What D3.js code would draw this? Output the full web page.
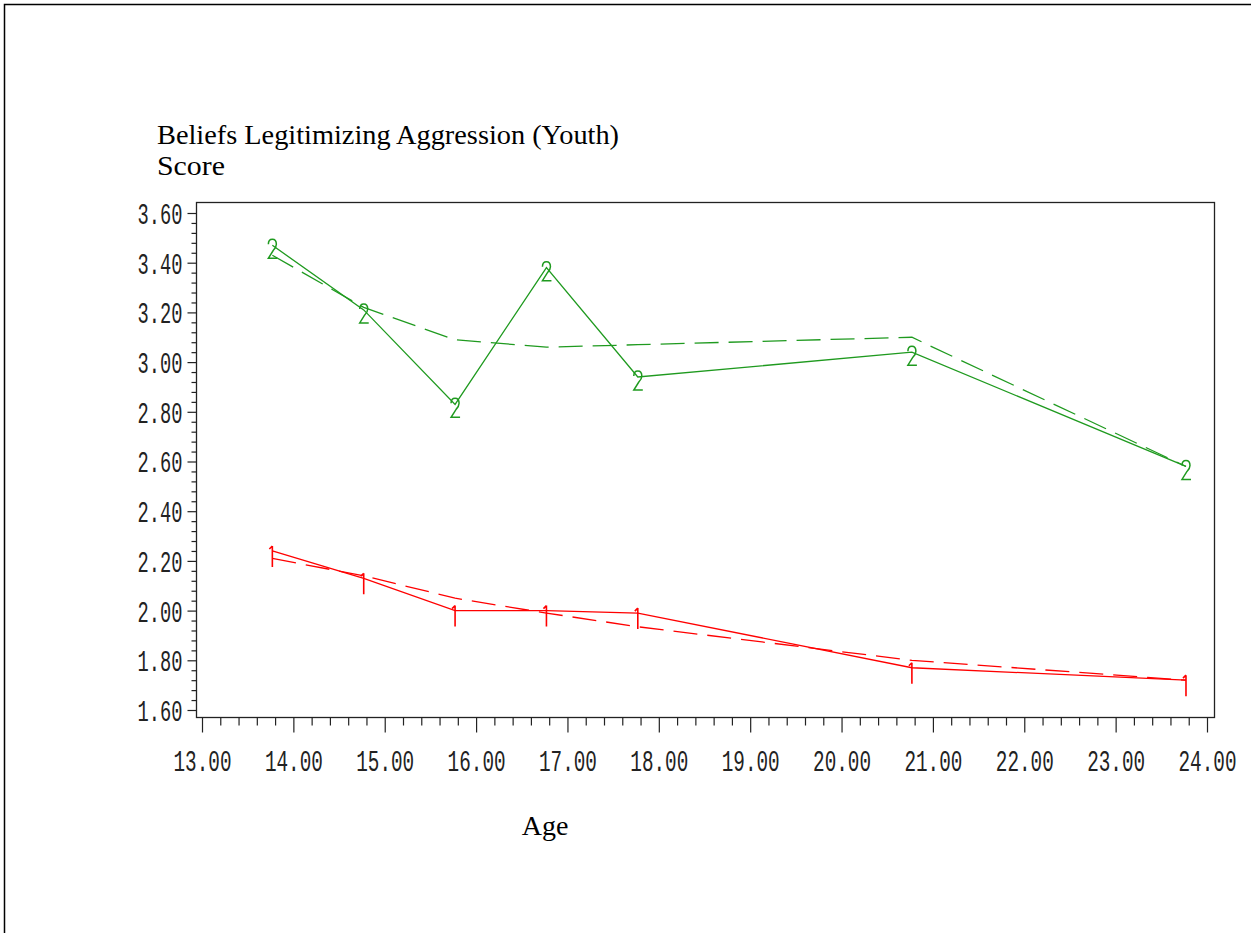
<!DOCTYPE html>
<html>
<head>
<meta charset="utf-8">
<script src="https://cdn.jsdelivr.net/npm/d3@7"></script>
<style>
  body { margin: 0; background: #fff; }
  svg { display: block; }
</style>
</head>
<body>
<svg id="chart" width="1251" height="933"></svg>
<script>
// Ages at which the scores were measured
const ages = [13.77, 14.77, 15.77, 16.77, 17.77, 20.77, 23.77];

// Group 2: observed means (solid) and model-predicted means (dashed)
const group2Observed  = [3.47, 3.21, 2.83, 3.38, 2.94, 3.04, 2.58];
const group2Predicted = [3.43, 3.22, 3.09, 3.06, 3.07, 3.10, 2.58];

// Group 1: observed means (solid) and model-predicted means (dashed)
const group1Observed  = [2.24, 2.13, 2.00, 2.00, 1.99, 1.77, 1.72];
const group1Predicted = [2.21, 2.14, 2.05, 1.99, 1.935, 1.80, 1.72];

// Axis ticks
const xTicks = [13, 14, 15, 16, 17, 18, 19, 20, 21, 22, 23, 24];
const yTicks = [1.6, 1.8, 2.0, 2.2, 2.4, 2.6, 2.8, 3.0, 3.2, 3.4, 3.6];

const titleText = "Beliefs Legitimizing Aggression (Youth)";
const yLabel = "Score";
const xLabel = "Age";

const GREEN = "#1f9a1f";
const RED = "#ff0000";

const svg = d3.select("#chart");

// Outer page border (only top and left edges fall inside the view)
svg.append("path")
  .attr("d", "M4.5,933 V4.5 H1251")
  .attr("fill", "none")
  .attr("stroke", "#000")
  .attr("stroke-width", 1.5);

const frame = { left: 196, top: 202, right: 1214, bottom: 717 };

const x = d3.scaleLinear().domain([13, 24]).range([202, 1207]);
const y = d3.scaleLinear().domain([1.6, 3.6]).range([710, 213]);

// Minor tick values: four between each labelled tick
const xMinor = d3.range(13, 24.001, 0.2).filter(v => Math.abs(v - Math.round(v)) > 1e-6);
const yMinor = d3.range(1.6, 3.6001, 0.04).filter(v => Math.abs(v * 5 - Math.round(v * 5)) > 1e-6);

// Plot frame
svg.append("rect")
  .attr("x", frame.left + 0.5)
  .attr("y", frame.top + 0.5)
  .attr("width", frame.right - frame.left)
  .attr("height", frame.bottom - frame.top)
  .attr("fill", "none")
  .attr("stroke", "#222")
  .attr("stroke-width", 1.3);

// Tick labels use a tall, horizontally condensed monospace face
const tickFont = "'Liberation Mono', monospace";
const tickSize = 29;
const fmt = d3.format(".2f");
const xLabelScale = 58 / (5 * 0.6 * tickSize);
const yLabelScale = 45 / (4 * 0.6 * tickSize);

// Y axis
const yAxisG = svg.append("g").attr("transform", `translate(${frame.left + 0.5},0)`);
yAxisG.call(d3.axisLeft(y).tickValues(yTicks).tickSize(9).tickFormat(fmt));
yAxisG.append("g").call(d3.axisLeft(y).tickValues(yMinor).tickSize(5).tickFormat(""));
yAxisG.selectAll(".domain").remove();
yAxisG.selectAll("line").attr("stroke", "#222").attr("stroke-width", 1.2);
yAxisG.selectAll("text")
  .attr("x", -14 / yLabelScale)
  .attr("dy", "0.36em")
  .attr("transform", `scale(${yLabelScale},1)`)
  .attr("font-family", tickFont)
  .attr("font-size", tickSize)
  .attr("fill", "#222")
  .attr("text-anchor", "end");

// X axis
const xAxisG = svg.append("g").attr("transform", `translate(0,${frame.bottom + 0.5})`);
xAxisG.call(d3.axisBottom(x).tickValues(xTicks).tickSize(15).tickFormat(fmt));
xAxisG.append("g").call(d3.axisBottom(x).tickValues(xMinor).tickSize(8).tickFormat(""));
xAxisG.selectAll(".domain").remove();
xAxisG.selectAll("line").attr("stroke", "#222").attr("stroke-width", 1.2);
xAxisG.selectAll("text")
  .attr("y", 54)
  .attr("dy", 0)
  .attr("transform", `scale(${xLabelScale},1)`)
  .attr("font-family", tickFont)
  .attr("font-size", tickSize)
  .attr("fill", "#222");

// Titles
const serif = "'Liberation Serif', 'Times New Roman', serif";
svg.append("text").attr("x", 157).attr("y", 144)
  .attr("font-family", serif).attr("font-size", 28).attr("fill", "#000")
  .attr("textLength", 462).attr("lengthAdjust", "spacingAndGlyphs")
  .text(titleText);
svg.append("text").attr("x", 157).attr("y", 175)
  .attr("font-family", serif).attr("font-size", 28).attr("fill", "#000")
  .attr("textLength", 68).attr("lengthAdjust", "spacingAndGlyphs")
  .text(yLabel);
svg.append("text").attr("x", 545).attr("y", 835)
  .attr("text-anchor", "middle")
  .attr("font-family", serif).attr("font-size", 28).attr("fill", "#000")
  .text(xLabel);

// Series lines
const line = d3.line().x((d, i) => x(ages[i])).y(d => y(d));

const series = [
  { values: group2Predicted, color: GREEN, dash: "24,10" },
  { values: group2Observed,  color: GREEN, dash: null },
  { values: group1Predicted, color: RED,   dash: "24,10" },
  { values: group1Observed,  color: RED,   dash: null }
];

svg.append("g").selectAll("path")
  .data(series)
  .join("path")
  .attr("d", s => line(s.values))
  .attr("fill", "none")
  .attr("stroke", s => s.color)
  .attr("stroke-width", 1.3)
  .attr("stroke-dasharray", s => s.dash);

// Plot symbols: "2" for group 2, "1" for group 1, on the observed means
const glyphTwo = "M-4,-1 Q-4,-6 0,-6 Q4,-6 4,-1 Q4,2 1,5 L-4,13 L5,13";
const glyphOne = "M0,-5 L0,16 M0,-5 L-3,-2";

svg.append("g").selectAll("path")
  .data(group2Observed)
  .join("path")
  .attr("transform", (d, i) => `translate(${x(ages[i])},${y(d)})`)
  .attr("d", glyphTwo)
  .attr("fill", "none")
  .attr("stroke", GREEN)
  .attr("stroke-width", 1.5);

svg.append("g").selectAll("path")
  .data(group1Observed)
  .join("path")
  .attr("transform", (d, i) => `translate(${x(ages[i])},${y(d)})`)
  .attr("d", glyphOne)
  .attr("fill", "none")
  .attr("stroke", RED)
  .attr("stroke-width", 1.6);
</script>
</body>
</html>
